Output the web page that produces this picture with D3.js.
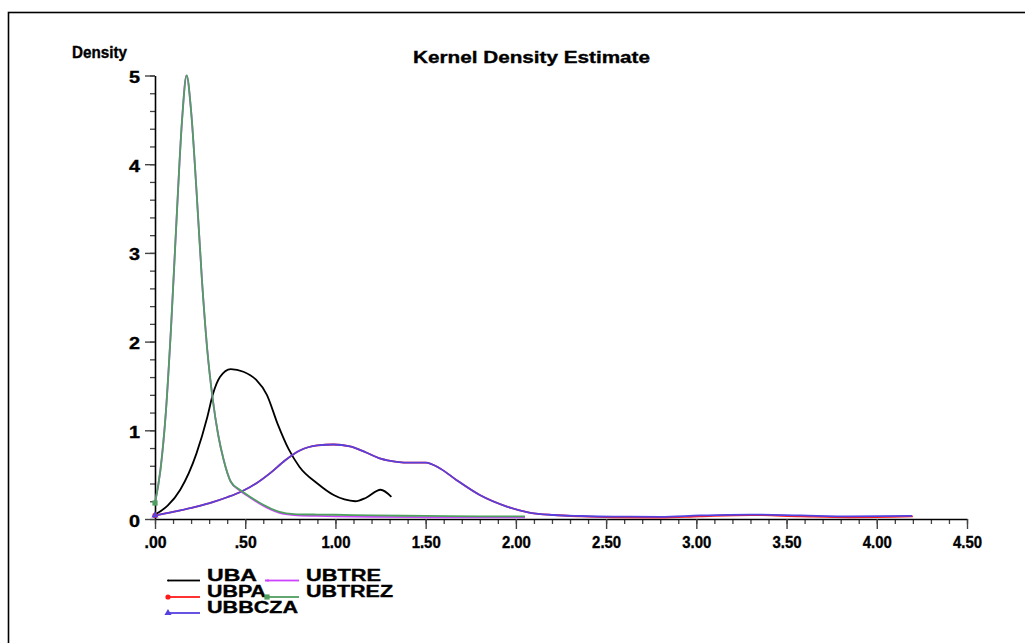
<!DOCTYPE html>
<html>
<head>
<meta charset="utf-8">
<script src="https://cdn.jsdelivr.net/npm/d3@7"></script>
<style>
  body { margin: 0; background: #fff; }
  text { font-family: "Liberation Sans", Arial, sans-serif; font-weight: bold; fill: #000; stroke: #000; stroke-width: 0.35px; }
</style>
</head>
<body>
<svg id="chart" width="1025" height="643"></svg>
<script>
// series names (legend order)
const seriesNames = ['UBA', 'UBPA', 'UBBCZA', 'UBTRE', 'UBTREZ'];

// x positions and density values
const xUBA = [0, 0.07, 0.14, 0.23, 0.29, 0.32, 0.36, 0.42, 0.49, 0.56, 0.62, 0.68, 0.74, 0.80, 0.90, 0.99, 1.05, 1.11, 1.17, 1.25, 1.31];
const yUBA = [0.05, 0.15, 0.33, 0.74, 1.15, 1.40, 1.60, 1.69, 1.66, 1.57, 1.40, 1.07, 0.79, 0.59, 0.40, 0.27, 0.22, 0.20, 0.24, 0.33, 0.25];

const xUBPA = [0, 0.1, 0.23, 0.32, 0.40, 0.48, 0.56, 0.64, 0.72, 0.80, 0.90, 0.99, 1.08, 1.17, 1.25, 1.34, 1.42, 1.50, 1.58, 1.67, 1.80, 1.95, 2.08, 2.21, 2.36, 2.54, 2.80, 3.02, 3.30, 3.58, 3.85, 4.20];
const yUBPA = [0.04, 0.08, 0.14, 0.19, 0.245, 0.31, 0.40, 0.52, 0.66, 0.77, 0.83, 0.84, 0.82, 0.75, 0.68, 0.645, 0.635, 0.635, 0.57, 0.44, 0.27, 0.14, 0.07, 0.045, 0.03, 0.02, 0.015, 0.03, 0.045, 0.03, 0.02, 0.03];

const xUBBCZA = [0, 0.1, 0.23, 0.32, 0.40, 0.48, 0.56, 0.64, 0.72, 0.80, 0.90, 0.99, 1.08, 1.17, 1.25, 1.34, 1.42, 1.50, 1.58, 1.67, 1.80, 1.95, 2.08, 2.21, 2.36, 2.54, 2.80, 3.02, 3.30, 3.58, 3.85, 4.195];
const yUBBCZA = [0.04, 0.08, 0.14, 0.19, 0.245, 0.31, 0.40, 0.52, 0.66, 0.77, 0.83, 0.84, 0.82, 0.75, 0.68, 0.645, 0.635, 0.635, 0.57, 0.44, 0.27, 0.14, 0.07, 0.045, 0.034, 0.027, 0.025, 0.04, 0.05, 0.04, 0.03, 0.035];

const xUBTRE = [0, 0.03, 0.06, 0.09, 0.12, 0.15, 0.174, 0.20, 0.23, 0.26, 0.29, 0.32, 0.35, 0.38, 0.42, 0.47, 0.52, 0.60, 0.69, 0.77, 0.90, 1.00, 1.20, 1.50, 1.80, 2.05];
const yUBTRE = [0.18, 0.55, 1.2, 2.2, 3.4, 4.5, 5.0, 4.6, 3.7, 2.7, 1.9, 1.35, 0.95, 0.67, 0.42, 0.32, 0.25, 0.15, 0.07, 0.045, 0.035, 0.03, 0.025, 0.02, 0.02, 0.02];

const xUBTREZ = [0, 0.03, 0.06, 0.09, 0.12, 0.15, 0.176, 0.20, 0.23, 0.26, 0.29, 0.32, 0.35, 0.38, 0.42, 0.47, 0.52, 0.60, 0.69, 0.77, 0.90, 1.00, 1.20, 1.50, 1.80, 2.05];
const yUBTREZ = [0.18, 0.55, 1.2, 2.2, 3.4, 4.5, 5.0, 4.6, 3.7, 2.7, 1.9, 1.35, 0.95, 0.67, 0.42, 0.33, 0.26, 0.16, 0.08, 0.056, 0.05, 0.048, 0.04, 0.035, 0.03, 0.03];

// tick labels
const xTickValues = [0, 0.5, 1, 1.5, 2, 2.5, 3, 3.5, 4, 4.5];
const xTickLabels = ['.00', '.50', '1.00', '1.50', '2.00', '2.50', '3.00', '3.50', '4.00', '4.50'];
const yTickValues = [0, 1, 2, 3, 4, 5];
const yTickLabels = ['0', '1', '2', '3', '4', '5'];

const colors = { UBA: '#000000', UBPA: '#ff1a1a', UBBCZA: '#5540e0', UBTRE: '#cc44ff', UBTREZ: '#4f9f5f' };
const seriesX = { UBA: xUBA, UBPA: xUBPA, UBBCZA: xUBBCZA, UBTRE: xUBTRE, UBTREZ: xUBTREZ };
const seriesY = { UBA: yUBA, UBPA: yUBPA, UBBCZA: yUBBCZA, UBTRE: yUBTRE, UBTREZ: yUBTREZ };

const svg = d3.select('#chart');

// outer frame (runs off the right and bottom of the picture)
svg.append('rect')
  .attr('x', 8.5).attr('y', 12.5)
  .attr('width', 1100).attr('height', 1000)
  .attr('fill', 'none').attr('stroke', '#000').attr('stroke-width', 1.6);

const x = d3.scaleLinear().domain([0, 4.5]).range([155, 967]);
const y = d3.scaleLinear().domain([0, 5]).range([519, 75.5]);

// minor ticks
svg.append('g')
  .attr('transform', `translate(0,${y(0)})`)
  .call(d3.axisBottom(x).tickValues(d3.range(0, 4.51, 0.1)).tickSize(5).tickFormat(''))
  .call(g => g.select('.domain').remove())
  .call(g => g.selectAll('line').attr('stroke', '#444').attr('stroke-width', 1.3));

svg.append('g')
  .attr('transform', `translate(${x(0)},0)`)
  .call(d3.axisLeft(y).tickValues(d3.range(0, 5.01, 0.2)).tickSize(5).tickFormat(''))
  .call(g => g.select('.domain').remove())
  .call(g => g.selectAll('line').attr('stroke', '#444').attr('stroke-width', 1.3));

// major ticks + labels
const xAxis = svg.append('g')
  .attr('transform', `translate(0,${y(0)})`)
  .call(d3.axisBottom(x).tickValues(xTickValues).tickSize(10).tickSizeOuter(0)
    .tickFormat((d, i) => xTickLabels[i]));
xAxis.select('.domain').attr('stroke', '#000').attr('stroke-width', 1.6);
xAxis.selectAll('line').attr('stroke', '#444').attr('stroke-width', 1.4);
xAxis.selectAll('text')
  .attr('y', 29).attr('dy', 0)
  .attr('textLength', (d, i) => xTickLabels[i].length > 3 ? 29 : 22)
  .attr('lengthAdjust', 'spacingAndGlyphs')
  .style('font-size', '16px').style('font-weight', 'bold')
  .style('font-family', '"Liberation Sans", Arial, sans-serif')
  .attr('fill', '#000');

const yAxis = svg.append('g')
  .attr('transform', `translate(${x(0)},0)`)
  .call(d3.axisLeft(y).tickValues(yTickValues).tickSize(10).tickSizeOuter(0)
    .tickFormat((d, i) => yTickLabels[i]));
yAxis.select('.domain').attr('stroke', '#000').attr('stroke-width', 1.6);
yAxis.selectAll('line').attr('stroke', '#444').attr('stroke-width', 1.4);
yAxis.selectAll('text')
  .attr('x', -15).attr('dy', 7)
  .attr('textLength', 11).attr('lengthAdjust', 'spacingAndGlyphs')
  .style('font-size', '16px').style('font-weight', 'bold')
  .style('font-family', '"Liberation Sans", Arial, sans-serif')
  .attr('fill', '#000');

// titles
svg.append('text')
  .attr('x', 413).attr('y', 63)
  .attr('textLength', 237).attr('lengthAdjust', 'spacingAndGlyphs')
  .style('font-size', '16.5px')
  .text('Kernel Density Estimate');

svg.append('text')
  .attr('x', 72).attr('y', 58)
  .attr('textLength', 55).attr('lengthAdjust', 'spacingAndGlyphs')
  .style('font-size', '16px')
  .text('Density');

// curves
const line = d3.line()
  .x(d => x(d[0]))
  .y(d => y(d[1]))
  .curve(d3.curveMonotoneX);

seriesNames.forEach(name => {
  const pts = seriesX[name].map((v, i) => [v, seriesY[name][i]]);
  svg.append('path')
    .datum(pts)
    .attr('fill', 'none')
    .attr('stroke', colors[name])
    .attr('stroke-width', 1.8)
    .attr('d', line);
});

// markers
function marker(g, name, cx, cy) {
  const c = colors[name];
  if (name === 'UBPA') {
    g.append('circle').attr('cx', cx).attr('cy', cy).attr('r', 2.6).attr('fill', c);
  } else if (name === 'UBBCZA') {
    g.append('path').attr('transform', `translate(${cx},${cy})`)
      .attr('d', d3.symbol(d3.symbolTriangle, 22)()).attr('fill', c);
  } else if (name === 'UBTREZ') {
    g.append('rect').attr('x', cx - 2.6).attr('y', cy - 2.6).attr('width', 5.2).attr('height', 5.2).attr('fill', c);
  } else if (name === 'UBTRE') {
    g.append('rect').attr('x', cx - 2).attr('y', cy - 1).attr('width', 4).attr('height', 2).attr('fill', c);
  } else {
    g.append('circle').attr('cx', cx).attr('cy', cy).attr('r', 1).attr('fill', c);
  }
}

const markG = svg.append('g');
seriesNames.forEach(name => {
  marker(markG, name, x(seriesX[name][0]), y(seriesY[name][0]));
});

// legend
const legendPos = {
  UBA: [168, 580.5, 50], UBPA: [168, 597, 59], UBBCZA: [168, 613, 91],
  UBTRE: [267, 580.5, 75], UBTREZ: [267, 597, 87]
};
const legend = svg.append('g');
seriesNames.forEach(name => {
  const [lx, ly, tw] = legendPos[name];
  legend.append('line')
    .attr('x1', lx).attr('x2', lx + 32)
    .attr('y1', ly).attr('y2', ly)
    .attr('stroke', colors[name]).attr('stroke-width', 1.8);
  marker(legend, name, lx, ly);
  legend.append('text')
    .attr('x', lx + 39).attr('y', ly)
    .attr('textLength', tw).attr('lengthAdjust', 'spacingAndGlyphs')
    .style('font-size', '16px')
    .text(name);
});
</script>
</body>
</html>
